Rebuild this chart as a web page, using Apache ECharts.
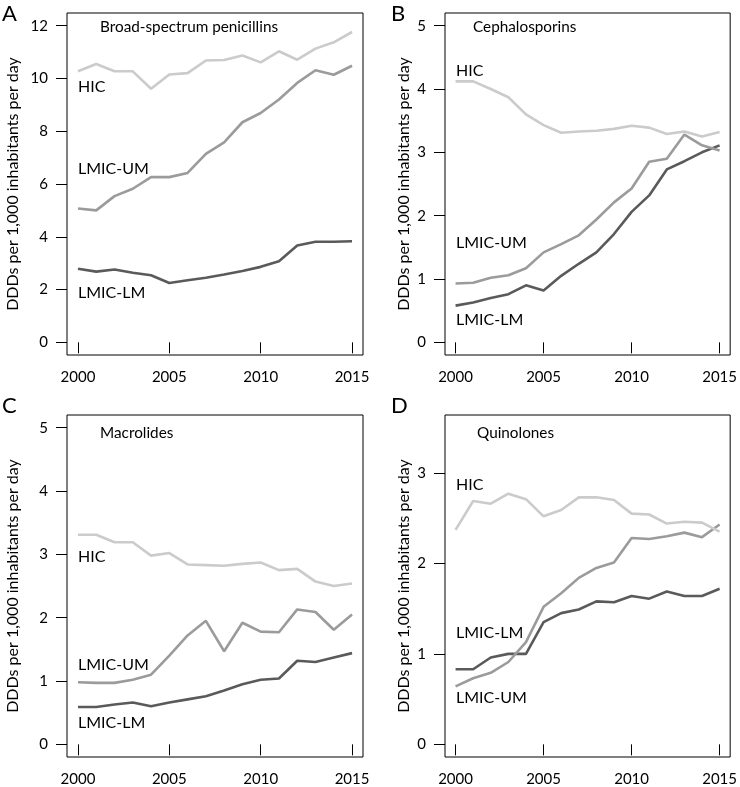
<!DOCTYPE html>
<html>
<head>
<meta charset="utf-8">
<script src="https://cdn.jsdelivr.net/npm/echarts@6.0.0/dist/echarts.min.js"></script>
<style>
html, body {margin: 0; padding: 0; background: #fff;}
#chart {width: 740px; height: 787px;}
</style>
</head>
<body>
<div id="chart"></div>
<script>
var years = [2000, 2001, 2002, 2003, 2004, 2005, 2006, 2007, 2008, 2009, 2010, 2011, 2012, 2013, 2014, 2015];
var xTicks = [2000, 2005, 2010, 2015];

// A - Broad-spectrum penicillins
var penHIC = [10.27, 10.55, 10.27, 10.27, 9.61, 10.15, 10.2, 10.68, 10.7, 10.87, 10.61, 11.03, 10.71, 11.13, 11.37, 11.76];
var penUM = [5.07, 5.0, 5.54, 5.82, 6.26, 6.26, 6.42, 7.14, 7.58, 8.34, 8.69, 9.2, 9.83, 10.31, 10.14, 10.48];
var penLM = [2.79, 2.68, 2.76, 2.64, 2.54, 2.25, 2.35, 2.45, 2.57, 2.7, 2.86, 3.07, 3.67, 3.81, 3.81, 3.83];
var penTicks = [0, 2, 4, 6, 8, 10, 12];

// B - Cephalosporins
var cepHIC = [4.12, 4.12, 4.0, 3.87, 3.6, 3.43, 3.31, 3.33, 3.34, 3.37, 3.42, 3.39, 3.29, 3.33, 3.25, 3.32];
var cepUM = [0.93, 0.94, 1.02, 1.06, 1.17, 1.42, 1.55, 1.69, 1.94, 2.21, 2.43, 2.85, 2.9, 3.28, 3.11, 3.03];
var cepLM = [0.58, 0.63, 0.7, 0.76, 0.9, 0.82, 1.05, 1.24, 1.42, 1.71, 2.06, 2.32, 2.73, 2.86, 3.0, 3.11];
var cepTicks = [0, 1, 2, 3, 4, 5];

// C - Macrolides
var macHIC = [3.31, 3.31, 3.19, 3.19, 2.98, 3.02, 2.84, 2.83, 2.82, 2.85, 2.87, 2.75, 2.77, 2.57, 2.5, 2.54];
var macUM = [0.98, 0.97, 0.97, 1.02, 1.1, 1.4, 1.72, 1.95, 1.47, 1.92, 1.78, 1.77, 2.13, 2.09, 1.81, 2.05];
var macLM = [0.59, 0.59, 0.63, 0.66, 0.6, 0.66, 0.71, 0.76, 0.85, 0.95, 1.02, 1.04, 1.32, 1.3, 1.37, 1.44];
var macTicks = [0, 1, 2, 3, 4, 5];

// D - Quinolones
var quiHIC = [2.37, 2.69, 2.66, 2.77, 2.71, 2.52, 2.59, 2.73, 2.73, 2.7, 2.55, 2.54, 2.44, 2.46, 2.45, 2.35];
var quiUM = [0.64, 0.73, 0.79, 0.91, 1.13, 1.52, 1.67, 1.84, 1.95, 2.01, 2.28, 2.27, 2.3, 2.34, 2.29, 2.43];
var quiLM = [0.83, 0.83, 0.96, 1.0, 1.0, 1.35, 1.45, 1.49, 1.58, 1.57, 1.64, 1.61, 1.69, 1.64, 1.64, 1.72];
var quiTicks = [0, 1, 2, 3];

var FONT = 'Lato, "Open Sans", sans-serif';
var cHIC = '#cbcbcb', cUM = '#9b9b9b', cLM = '#5a5a5a';

var chart = echarts.init(document.getElementById('chart'));

var panels = [
    {grid: {left: 67, top: 13, width: 296, height: 342}, ymin: -0.48, ymax: 12.48, ticks: penTicks, gap: 46,
        lines: [penHIC, penUM, penLM]},
    {grid: {left: 445, top: 13, width: 289, height: 342}, ymin: -0.2, ymax: 5.2, ticks: cepTicks, gap: 33,
        lines: [cepHIC, cepUM, cepLM]},
    {grid: {left: 67, top: 415, width: 296, height: 342}, ymin: -0.2, ymax: 5.2, ticks: macTicks, gap: 46,
        lines: [macHIC, macUM, macLM]},
    {grid: {left: 445, top: 415, width: 289, height: 342}, ymin: -0.14, ymax: 3.64, ticks: quiTicks, gap: 33,
        lines: [quiHIC, quiUM, quiLM]}
];

function pairs(vals) {
    var out = [];
    for (var i = 0; i < years.length; i++) {
        out.push([years[i], vals[i]]);
    }
    return out;
}

var grids = [], xAxes = [], yAxes = [], series = [];
var colors = [cHIC, cUM, cLM];

for (var p = 0; p < panels.length; p++) {
    var pn = panels[p];
    grids.push({
        left: pn.grid.left, top: pn.grid.top, width: pn.grid.width, height: pn.grid.height,
        show: true, borderColor: '#000', borderWidth: 1, backgroundColor: 'transparent'
    });
    xAxes.push({
        type: 'value', gridIndex: p, min: 1999.4, max: 2015.6,
        axisLine: {show: false},
        splitLine: {show: false},
        axisTick: {show: true, inside: false, length: 11, customValues: xTicks, lineStyle: {color: '#000', width: 1}},
        axisLabel: {customValues: xTicks, margin: 15, color: '#000', fontSize: 15, fontFamily: FONT,
            formatter: function (v) { return String(v); }}
    });
    yAxes.push({
        type: 'value', gridIndex: p, min: pn.ymin, max: pn.ymax,
        name: 'DDDs per 1,000 inhabitants per day',
        nameLocation: 'middle', nameGap: pn.gap,
        nameTextStyle: {color: '#000', fontSize: 16, fontFamily: FONT},
        axisLine: {show: false},
        splitLine: {show: false},
        axisTick: {show: true, inside: false, length: 11, customValues: pn.ticks, lineStyle: {color: '#000', width: 1}},
        axisLabel: {customValues: pn.ticks, margin: 19, color: '#000', fontSize: 15, fontFamily: FONT}
    });
    for (var s = 0; s < 3; s++) {
        series.push({
            type: 'line', xAxisIndex: p, yAxisIndex: p,
            data: pairs(pn.lines[s]),
            showSymbol: false, symbol: 'none',
            lineStyle: {color: colors[s], width: 2.6},
            z: 3 - s,
            animation: false
        });
    }
}

function txt(x, y, t, size) {
    return {type: 'text', x: x, y: y,
        style: {text: t, fill: '#000', fontSize: size, fontFamily: FONT, verticalAlign: 'middle', align: 'left'}};
}

var graphics = [
    txt(2, 14, 'A', 22), txt(391, 14, 'B', 22), txt(2, 406, 'C', 22), txt(391, 406, 'D', 22),
    txt(100, 27, 'Broad-spectrum penicillins', 15.3),
    txt(78, 87, 'HIC', 16), txt(78, 169, 'LMIC-UM', 16), txt(78, 293, 'LMIC-LM', 16),
    txt(473, 27, 'Cephalosporins', 15.3),
    txt(456, 71, 'HIC', 16), txt(456, 243, 'LMIC-UM', 16), txt(456, 320, 'LMIC-LM', 16),
    txt(100, 433, 'Macrolides', 15.3),
    txt(78, 557, 'HIC', 16), txt(78, 665, 'LMIC-UM', 16), txt(78, 723, 'LMIC-LM', 16),
    txt(477, 433, 'Quinolones', 15.3),
    txt(456, 485, 'HIC', 16), txt(456, 633, 'LMIC-LM', 16), txt(456, 698, 'LMIC-UM', 16)
];

chart.setOption({
    animation: false,
    backgroundColor: '#fff',
    grid: grids,
    xAxis: xAxes,
    yAxis: yAxes,
    series: series,
    graphic: graphics
});
</script>
</body>
</html>
